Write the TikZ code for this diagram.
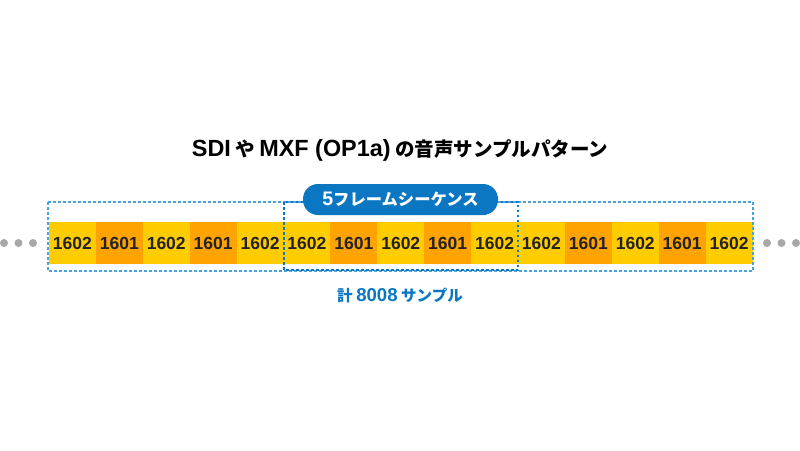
\documentclass[tikz,border=0pt]{standalone}
\usepackage{fontspec}
\setmainfont{Noto Sans CJK JP}
\newfontfamily\latin[Scale=1.2]{Liberation Sans}
\usetikzlibrary{positioning}

\definecolor{cellyellow}{HTML}{FFCC00}
\definecolor{cellorange}{HTML}{FFA300}
\definecolor{seqblue}{HTML}{0B77C2}
\definecolor{boxblue}{HTML}{4BA3DD}
\definecolor{dotgray}{HTML}{A8A8A8}
\definecolor{numtext}{HTML}{222222}

\tikzset{
    cell/.style={minimum width=46.9pt, minimum height=42pt, inner sep=0pt,
        font=\latin\bfseries\fontsize{14.6}{15}\selectfont, text=numtext},
    outerbox/.style={draw=boxblue, line width=1.2pt, dash pattern=on 3pt off 2pt},
    seqbox/.style={draw=seqblue, line width=2pt, dash pattern=on 2.5pt off 2.5pt},
    seqlabel/.style={fill=seqblue, text=white, rounded corners=15pt,
        minimum width=195pt, minimum height=31pt, inner sep=0pt,
        font=\bfseries\fontsize{16.3}{17}\selectfont},
    gapdot/.style={fill=dotgray},
}

\begin{document}
\begin{tikzpicture}[x=1pt, y=-1pt]
    \useasboundingbox (0,0) rectangle (800,450);

    \node[font=\bfseries\fontsize{19.5}{20}\selectfont] (title) at (400,150)
        {{\latin SDI} や {\latin MXF (OP1a)} の音声サンプルパターン};

    % 15 frames, 3 sequences of 5
    \foreach \i in {0,...,14} {
        \pgfmathtruncatemacro{\k}{mod(\i,5)}
        \ifodd\k
            \node[cell, fill=cellorange] (c\i) at (72.45+46.9*\i,243) {1601};
        \else
            \node[cell, fill=cellyellow] (c\i) at (72.45+46.9*\i,243) {1602};
        \fi
    }

    \draw[outerbox] (48,202) rectangle (753,271);
    \draw[seqbox] (284,202) rectangle (518,270);
    \node[seqlabel] (seq) at (400.5,199.5) {{\latin 5}フレームシーケンス};
    \node[font=\bfseries\fontsize{15.5}{16}\selectfont, text=seqblue] (total) at (400,296)
        {計 {\latin 8008} サンプル};

    % continuation dots
    \foreach \x in {4,18.5,33,767,781.5,796}
        \fill[gapdot] (\x,243) circle (4);
\end{tikzpicture}
\end{document}
